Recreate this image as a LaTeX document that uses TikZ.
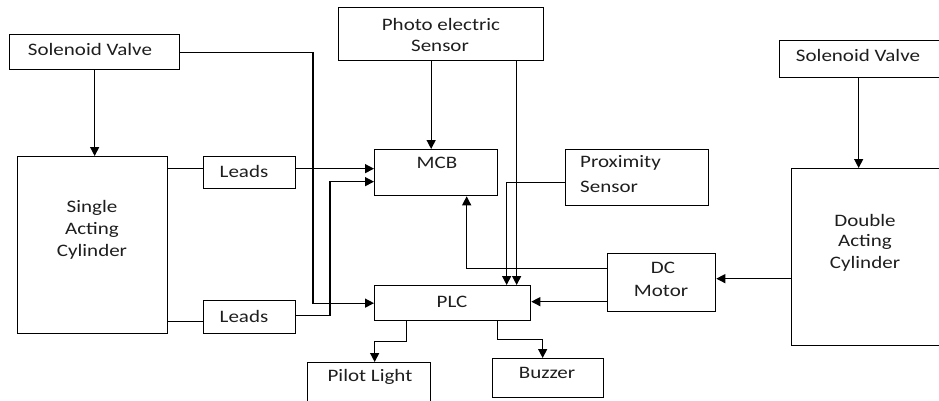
\documentclass[tikz,border=0pt]{standalone}
\usepackage{fontspec}
\setmainfont{Carlito}[FakeStretch=1.2]
\usepackage{tikz}
\usetikzlibrary{arrows.meta,positioning,calc}
\definecolor{inkgray}{HTML}{1E1E1E}
\tikzset{
  blk/.style={draw=black, line width=1.3pt, anchor=north west, inner sep=0pt},
  lbl/.style={font=\fontsize{17.5}{21}\selectfont, text=inkgray, inner sep=0pt},
  wire/.style={line width=1.3pt},
  arr/.style={wire, -{Triangle[length=9pt,width=9pt]}}
}
\begin{document}
\begin{tikzpicture}[x=1pt,y=-1pt]
  \useasboundingbox (0,0) rectangle (939,400);
  \clip (0,0) rectangle (939,400);

  % blocks
  \node[blk, minimum width=170pt, minimum height=35pt] (sv1) at (9,34) {};
  \node[blk, minimum width=205pt, minimum height=53pt] (pes) at (338,7) {};
  \node[blk, minimum width=170pt, minimum height=37pt] (sv2) at (779,40) {};
  \node[blk, minimum width=150pt, minimum height=177pt] (sac) at (17,156) {};
  \node[blk, minimum width=92pt, minimum height=32pt] (ld1) at (203,156) {};
  \node[blk, minimum width=92pt, minimum height=33pt] (ld2) at (203,300) {};
  \node[blk, minimum width=123pt, minimum height=46pt] (mcb) at (374,149) {};
  \node[blk, minimum width=143pt, minimum height=56pt] (prx) at (565,149) {};
  \node[blk, minimum width=156pt, minimum height=35pt] (plc) at (374,285) {};
  \node[blk, minimum width=108pt, minimum height=58pt] (dcm) at (607,253) {};
  \node[blk, minimum width=160pt, minimum height=177pt] (dac) at (791,168) {};
  \node[blk, minimum width=123pt, minimum height=45pt] (pil) at (307,362) {};
  \node[blk, minimum width=111pt, minimum height=39pt] (buz) at (492,358) {};

  % texts
  \node[lbl] (sv1t) at (90,49) {Solenoid Valve};
  \node[lbl] (pest1) at (441,24) {Photo electric};
  \node[lbl] (pest2) at (440,46) {Sensor};
  \node[lbl] (sv2t) at (858,55) {Solenoid Valve};
  \node[lbl] (sact1) at (92,208) {Single};
  \node[lbl] (sact2) at (92,230) {Acting};
  \node[lbl] (sact3) at (92,252) {Cylinder};
  \node[lbl] (ld1t) at (244,171) {Leads};
  \node[lbl] (ld2t) at (244,316) {Leads};
  \node[lbl] (mcbt) at (437,163) {MCB};
  \node[lbl, anchor=west] (prxt1) at (580,163) {Proximity};
  \node[lbl, anchor=west] (prxt2) at (580,187) {Sensor};
  \node[lbl] (plct) at (452,302) {PLC};
  \node[lbl] (dcmt1) at (663,268) {DC};
  \node[lbl] (dcmt2) at (661,291) {Motor};
  \node[lbl] (dact1) at (865,220) {Double};
  \node[lbl] (dact2) at (865,242) {Acting};
  \node[lbl] (dact3) at (865,264) {Cylinder};
  \node[lbl] (pilt) at (370,377) {Pilot Light};
  \node[lbl] (buzt) at (547,373) {Buzzer};

  % connectors
  \draw[arr] (sv1.south) -- (sv1.south |- sac.north);
  \draw[arr] (sv1.east) -| ([xshift=-61pt]plc.west) -- (plc.west);
  \draw[arr] ([xshift=-10pt]pes.south) -- ([xshift=-10pt]pes.south |- mcb.north);
  \draw[arr] ([xshift=75.5pt]pes.south) -- ([xshift=75.5pt]pes.south |- plc.north);
  \draw[wire] ([yshift=4pt]ld1.west) -- ([yshift=4pt]ld1.west -| sac.east);
  \draw[arr] ([yshift=4pt]ld1.east) -- ([yshift=4pt]ld1.east -| mcb.west);
  \draw[wire] ([yshift=-4pt]ld2.west) -- ([yshift=-4pt]ld2.west -| sac.east);
  \draw[arr] ([yshift=2pt]ld2.east) -| ($(mcb.west)+(-44,9)$) -- ($(mcb.west)+(0,9)$);
  \draw[arr] ([yshift=-5pt]prx.west) -| ([xshift=54pt]plc.north);
  \draw[arr] ([yshift=14pt]dcm.west) -| ([xshift=30.5pt]mcb.south);
  \draw[arr] ([yshift=-19pt]dcm.west) -- ([yshift=-19pt]dcm.west -| plc.east);
  \draw[arr] ([yshift=-21.5pt]dac.west) -- ([yshift=-21.5pt]dac.west -| dcm.east);
  \draw[arr] ([xshift=-6pt]sv2.south) -- ([xshift=-6pt]sv2.south |- dac.north);
  \draw[arr] ([xshift=-46pt]plc.south) -- ++(0,20) -| ([xshift=5.5pt]pil.north);
  \draw[arr] ([xshift=45pt]plc.south) -- ++(0,18) -| ([xshift=-5.5pt]buz.north);
\end{tikzpicture}
\end{document}
